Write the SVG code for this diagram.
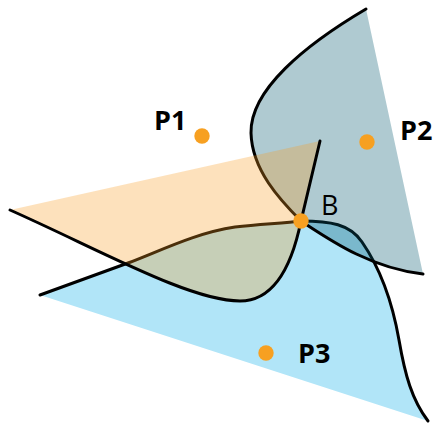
<svg xmlns="http://www.w3.org/2000/svg" width="435" height="424" viewBox="0 0 435 424">
<style>
.ln{fill:none;stroke:#000;stroke-width:3;stroke-linecap:round;stroke-linejoin:round}
.dot{fill:#f7a021}
.lbl{font-family:"Open Sans","Liberation Sans",sans-serif;font-size:27px;fill:#000}
.b{font-weight:700}
</style>
<rect width="435" height="424" fill="#fff"/>
<g id="region-P3">
<path d="M40,295 L128,263 C160,251 195,233 235,227 C265,224 287,223 301,221 C330,221 350,224 362,242 C380,268 392,300 399,340 C405,375 412,400 428,421 Z" fill="#b1e5f8"/>
</g>
<g id="connectors-under">
<path class="ln" d="M40,295 L128,263 C160,251 195,233 235,227 C265,224 287,223 301,221"/>
<path class="ln" d="M301,221 C330,221 350,224 362,242 C380,268 392,300 399,340 C405,375 412,400 428,421"/>
</g>
<g id="region-P2">
<path d="M366,9 C305,45 250,90 251,133 C252,170 280,200 301,221 C330,240 370,268 423,274 Z" fill="#05596f" fill-opacity="0.32"/>
</g>
<g id="connectors-mid">
<path class="ln" d="M366,9 C305,45 250,90 251,133 C252,170 280,200 301,221"/>
<path class="ln" d="M301,221 C330,240 370,268 423,274"/>
</g>
<g id="region-P1">
<path d="M10,210 L320,141 L301,221 C292,265 275,301 240,301 C190,301 100,250 10,210 Z" fill="#f89b20" fill-opacity="0.3"/>
</g>
<g id="connectors-top">
<path class="ln" d="M10,210 C100,250 190,301 240,301 C275,301 292,265 301,221"/>
<path class="ln" d="M320,141 L301,221"/>
</g>
<g id="node-P1">
<circle class="dot" cx="202" cy="136" r="7.7"/>
<text class="lbl b" x="154" y="129.5">P1</text>
</g>
<g id="node-P2">
<circle class="dot" cx="367" cy="142" r="7.7"/>
<text class="lbl b" x="400" y="139.5">P2</text>
</g>
<g id="node-P3">
<circle class="dot" cx="266" cy="353" r="7.7"/>
<text class="lbl b" x="298" y="362.5">P3</text>
</g>
<g id="node-B">
<circle class="dot" cx="301" cy="221" r="7.7"/>
<text class="lbl" x="321" y="214.5">B</text>
</g>
</svg>
